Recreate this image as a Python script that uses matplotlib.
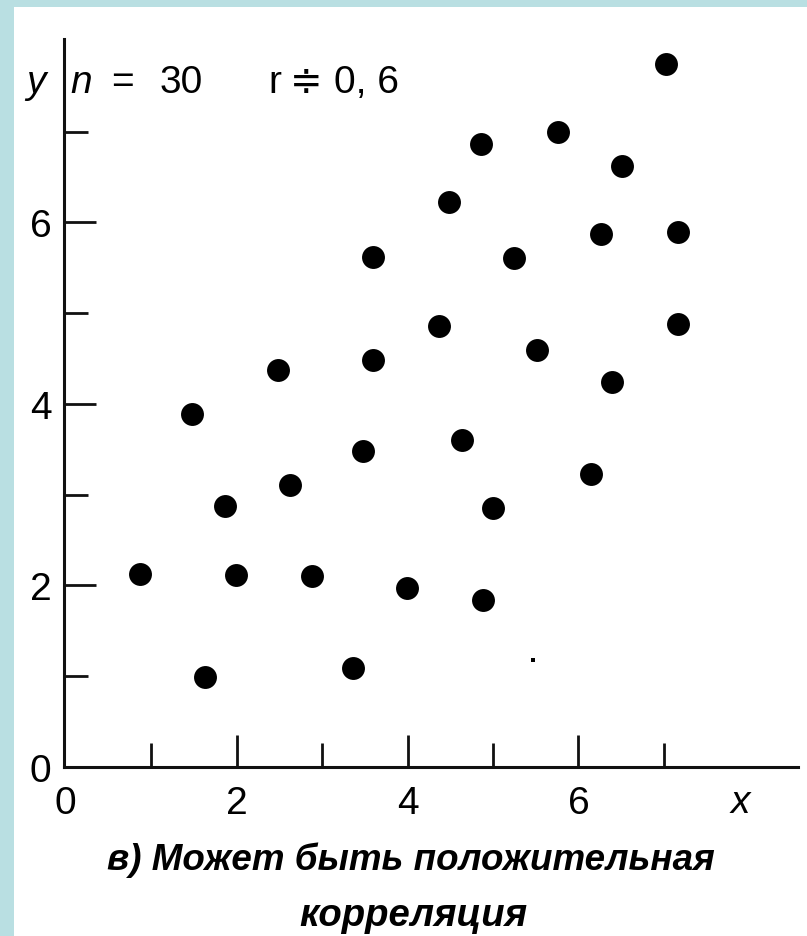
import numpy as np
import matplotlib
matplotlib.use('Agg')
import matplotlib.pyplot as plt
from matplotlib.patches import Rectangle

# Font: narrow sans like the scanned textbook figure, fall back to DejaVu
plt.rcParams['font.family'] = ['Liberation Sans Narrow', 'Liberation Sans', 'DejaVu Sans']

# Data (n = 30)
x_vals = [0.87, 1.63, 1.48, 1.87, 1.99, 2.48, 2.62, 2.88, 3.36, 3.48,
          3.60, 3.60, 3.99, 4.37, 4.49, 4.64, 4.86, 4.88, 5.00, 5.25,
          5.52, 5.76, 6.15, 6.27, 6.39, 6.51, 7.03, 7.16, 7.16]
y_vals = [2.13, 0.99, 3.89, 2.87, 2.12, 4.37, 3.11, 2.10, 1.09, 3.48,
          5.62, 4.48, 1.97, 4.86, 6.22, 3.60, 6.86, 1.84, 2.85, 5.61,
          4.59, 6.99, 3.23, 5.87, 4.24, 6.62, 7.75, 5.89, 4.88]
# faint 30th point (tiny speck in the original)
x_faint = [5.47]
y_faint = [1.18]

major_ticks = [0, 2, 4, 6]
minor_ticks = [1, 3, 5, 7]
tick_labels = ['0', '2', '4', '6']

W, H = 807, 937
fig = plt.figure(figsize=(W / 100, H / 100), dpi=100)
fig.patch.set_facecolor('white')

# light cyan frame on the left and top edges
frame_col = '#b9dfe2'
fig.add_artist(Rectangle((0, 0), 14 / W, 1, transform=fig.transFigure,
                         facecolor=frame_col, edgecolor='none', zorder=0))
fig.add_artist(Rectangle((0, 1 - 8 / H), 1, 8 / H, transform=fig.transFigure,
                         facecolor=frame_col, edgecolor='none', zorder=0))

# axes box in pixel terms: y-axis at x=64, x-axis at y=768, top of y-axis at y=40, end of x-axis at 798
ax = fig.add_axes([64 / W, (H - 768) / H, (798 - 64) / W, (768 - 40) / H])
ax.set_facecolor('none')
ax.set_xlim(-0.02, 8.57)
ax.set_ylim(0, 8.02)

ax.plot(x_vals, y_vals, 'o', color='black', markersize=16.5, markeredgewidth=0)
ax.plot(x_faint, y_faint, 's', color='black', markersize=3, markeredgewidth=0)

for side in ['top', 'right']:
    ax.spines[side].set_visible(False)
for side in ['left', 'bottom']:
    ax.spines[side].set_linewidth(2.2)
    ax.spines[side].set_color('#111111')

ax.set_xticks(major_ticks)
ax.set_xticks(minor_ticks, minor=True)
ax.set_yticks(major_ticks)
ax.set_yticks(minor_ticks, minor=True)
ax.set_xticklabels(tick_labels)
ax.set_yticklabels(tick_labels)

ax.tick_params(axis='both', which='major', direction='in', length=23, width=2,
               labelsize=28, color='#111111')
ax.tick_params(axis='both', which='minor', direction='in', length=17, width=2,
               color='#111111')
ax.tick_params(axis='x', which='major', pad=13)
ax.tick_params(axis='y', which='major', pad=9)
# the origin tick would double the y-axis line
ax.xaxis.get_major_ticks()[0].tick1line.set_visible(False)

# annotations around the axes
ty = 1 - 93 / H
fig.text(36 / W, ty, 'y', fontsize=28, style='italic', ha='center', va='baseline')
fig.text(70 / W, ty, 'n', fontsize=28, style='italic', ha='left', va='baseline')
fig.text(111 / W, ty, '=', fontsize=28, ha='left', va='baseline')
fig.text(160 / W, ty, '30', fontsize=28, ha='left', va='baseline')
fig.text(268 / W, ty, 'r', fontsize=28, ha='left', va='baseline')
fig.text(290 / W, ty, '\u2251', fontsize=28, ha='left', va='baseline',
         family=['DejaVu Sans'])
fig.text(334 / W, ty, '0, 6', fontsize=28, ha='left', va='baseline')
fig.text(740 / W, 1 - 803 / H, 'x', fontsize=28, style='italic', ha='center', va='center')

fig.text(411 / W, 1 - 870 / H, 'в) Может быть положительная', fontsize=26.5,
         weight='bold', style='italic', ha='center', va='baseline')
fig.text(413 / W, 1 - 926 / H, 'корреляция', fontsize=27.5,
         weight='bold', style='italic', ha='center', va='baseline')

fig.savefig('out.png', dpi=100, facecolor='white')
